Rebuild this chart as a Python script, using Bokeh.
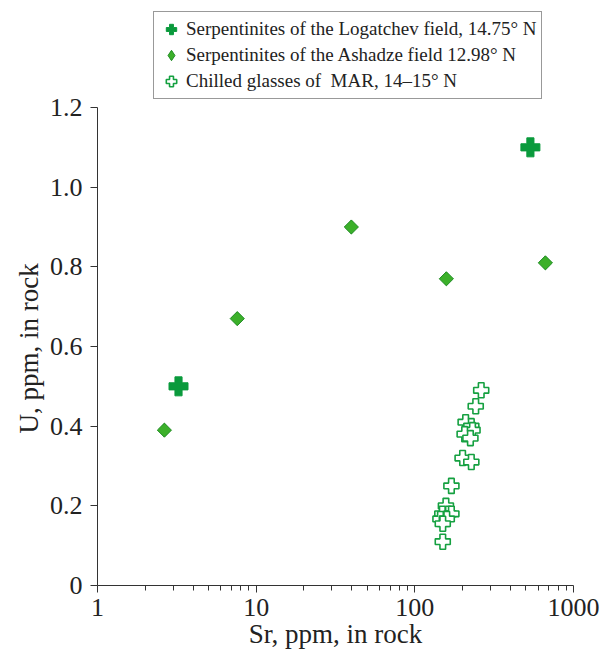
import math
from bokeh.plotting import figure
from bokeh.models import FixedTicker, Legend, LegendItem, NumeralTickFormatter, Range1d, Title
from bokeh.embed import file_html
from bokeh.resources import INLINE

log_sr = [3.24, 535]
log_u = [0.50, 1.10]

ash_sr = [2.64, 7.6, 39.8, 158, 665]
ash_u = [0.39, 0.67, 0.90, 0.77, 0.81]

gl_sr = [262, 242, 209, 227, 231, 206, 224, 200, 227, 170, 157, 163, 149, 170, 145, 159, 150, 150]
gl_u = [0.49, 0.45, 0.41, 0.40, 0.39, 0.38, 0.37, 0.32, 0.31, 0.25, 0.20, 0.18, 0.18, 0.18, 0.167, 0.167, 0.155, 0.11]

x_ticks = [1, 10, 100, 1000]
y_ticks = [0, 0.2, 0.4, 0.6, 0.8, 1.0, 1.2]
y_axis_max = 1.2

FONT = "Liberation Serif"
FRAME_H = 585          # frame height in px (axis bottom at y=585)
AXIS_H = 478           # px spanned by 0..1.2

p = figure(width=602, height=652, x_axis_type="log", output_backend="svg",
           toolbar_location=None, x_range=Range1d(1, 1000),
           y_range=Range1d(0, y_axis_max * FRAME_H / AXIS_H),
           min_border_left=97, min_border_right=29, min_border_top=0, min_border_bottom=67)
p.outline_line_color = None
p.grid.visible = False
p.background_fill_color = "white"

r1 = p.scatter(log_sr, log_u, marker="plus", size=19, fill_color="#0a9a3c", line_color="#0a9a3c", line_width=1)
# diamond drawn underneath (used for the legend swatch), rotated square on top
r2_leg = p.scatter(ash_sr, ash_u, marker="diamond", size=13,
                   fill_color="#3cb02a", line_color="#1f8c24", line_width=1)
r2 = p.scatter(ash_sr, ash_u, marker="square", size=10, angle=math.pi / 4,
               fill_color="#3cb02a", line_color="#1f8c24", line_width=1)
r3 = p.scatter(gl_sr, gl_u, marker="plus", size=15, fill_color="white", line_color="#15a040", line_width=1.6)

minor = [m * d for d in (1, 10, 100) for m in range(2, 10)]
p.xaxis.ticker = FixedTicker(ticks=x_ticks, minor_ticks=minor)
p.yaxis.ticker = FixedTicker(ticks=y_ticks, minor_ticks=[])
p.yaxis.formatter = NumeralTickFormatter(format="0.0")
p.yaxis.major_label_overrides = {0: "0"}
p.xaxis.major_label_overrides = {1: "1", 10: "10", 100: "100", 1000: "1000"}
p.yaxis.bounds = (0, y_axis_max)

for ax in (p.xaxis[0], p.yaxis[0]):
    ax.axis_line_color = "#333333"
    ax.major_tick_line_color = "#333333"
    ax.minor_tick_line_color = "#333333"
    ax.major_tick_in = 0
    ax.major_tick_out = 7
    ax.minor_tick_in = 0
    ax.minor_tick_out = 5
    ax.major_label_text_font = FONT
    ax.major_label_text_font_size = "26px"
    ax.major_label_text_color = "#222222"
    ax.axis_label_text_font = FONT
    ax.axis_label_text_font_size = "27px"
    ax.axis_label_text_font_style = "normal"
    ax.axis_label_text_color = "#222222"

p.xaxis.axis_label = "Sr, ppm, in rock"
p.xaxis.major_label_standoff = 6
p.xaxis.axis_label_standoff = 0
p.yaxis.major_label_standoff = 8

ytitle = Title(text="U, ppm, in rock", align="left", offset=152, standoff=6,
               text_font=FONT, text_font_size="27px", text_font_style="normal",
               text_color="#222222")
p.add_layout(ytitle, "left")

legend = Legend(items=[
    LegendItem(label="Serpentinites of the Logatchev field, 14.75° N", renderers=[r1]),
    LegendItem(label="Serpentinites of the Ashadze field 12.98° N", renderers=[r2_leg]),
    LegendItem(label="Chilled glasses of  MAR, 14\u201315° N", renderers=[r3]),
], location=(56, 486))
legend.label_text_font = FONT
legend.label_text_font_size = "19px"
legend.label_text_color = "#222222"
legend.border_line_color = "#333333"
legend.border_line_width = 1
legend.background_fill_alpha = 1
legend.glyph_width = 26
legend.glyph_height = 26
legend.label_standoff = 2
legend.spacing = 0
legend.padding = 4
legend.margin = 0
legend.label_height = 26
p.add_layout(legend, "center")

open("out.html", "w").write(file_html(p, INLINE))
